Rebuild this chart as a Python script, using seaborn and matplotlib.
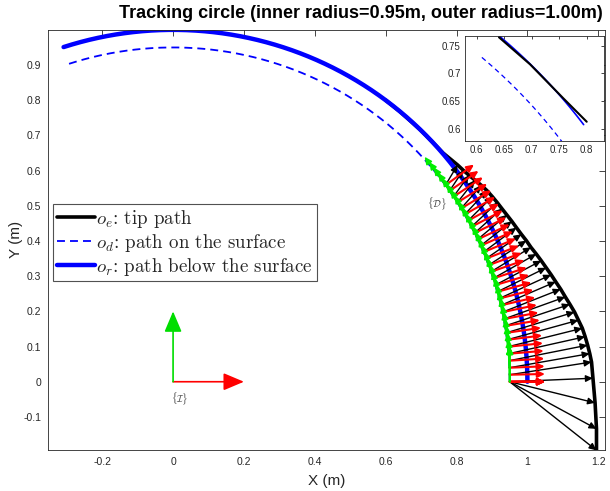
import numpy as np
import matplotlib
matplotlib.use("Agg")
import matplotlib.pyplot as plt
import seaborn as sns
from matplotlib.lines import Line2D
from matplotlib.ticker import FormatStrFormatter

# ---------------- data ----------------
title_text = "Tracking circle (inner radius=0.95m, outer radius=1.00m)"
inner_radius = 0.95          # o_d : path on the surface
outer_radius = 1.00          # o_r : path below the surface
arc_start_deg = 108.0
arc_end_deg = 0.0
frame_len = 0.10             # length of the {D} frame axes
world_frame_len = 0.20       # length of the {I} frame axes

# frame {D} orientation (deg) at each sampled step
frame_angles_deg = [0.0, 0.0, 0.0, 0.0, 1.2, 2.4, 3.6, 4.8, 6.0, 7.2, 8.4, 9.6,
                    10.8, 12.0, 13.2, 14.4, 15.6, 16.8, 18.0, 19.2, 20.4, 21.6,
                    22.8, 24.0, 25.2, 26.4, 27.6, 28.8, 30.0, 31.2, 32.4, 33.6,
                    34.8, 36.0]
# o_e : tip position at the same steps
tip_x = [1.195, 1.195, 1.191, 1.185, 1.181, 1.176, 1.170, 1.163, 1.155, 1.144,
         1.133, 1.120, 1.107, 1.094, 1.080, 1.067, 1.053, 1.039, 1.025, 1.010,
         0.997, 0.983, 0.969, 0.956, 0.942, 0.928, 0.915, 0.901, 0.886, 0.870,
         0.852, 0.835, 0.819, 0.803]
tip_y = [-0.195, -0.134, -0.060, 0.010, 0.056, 0.080, 0.104, 0.128, 0.152, 0.175,
         0.198, 0.220, 0.241, 0.263, 0.284, 0.304, 0.324, 0.344, 0.363, 0.382,
         0.401, 0.419, 0.438, 0.456, 0.474, 0.492, 0.509, 0.526, 0.543, 0.558,
         0.573, 0.587, 0.601, 0.616]
# rest of the tip path (runs along the outer circle)
tip_tail_x = [0.762, 0.700, 0.640, 0.600]
tip_tail_y = [0.650, 0.714, 0.768, 0.800]

# inset (zoom) data
inset_tip_x = [0.6405, 0.697, 0.7575, 0.800]
inset_tip_y = [0.7652, 0.7163, 0.6549, 0.6126]
inset_outer_deg = (50.2, 37.4)
inset_inner_deg = (50.1, 30.0)

legend_labels = [r"$o_e$: tip path", r"$o_d$: path on the surface",
                 r"$o_r$: path below the surface"]

# ---------------- style ----------------
sns.set_theme(style="white")
plt.rcParams["font.family"] = ["Liberation Sans", "DejaVu Sans"]
plt.rcParams["mathtext.fontset"] = "cm"
plt.rcParams["axes.unicode_minus"] = False

W, H = 610, 491
fig = plt.figure(figsize=(W / 100, H / 100), dpi=100)
ax = fig.add_axes([48 / W, 1 - 450 / H, (605 - 48) / W, (450 - 29.5) / H])

dash = (0, (4.4, 2.8))


def arc(r, a0, a1, n=300):
    t = np.deg2rad(np.linspace(a0, a1, n))
    return r * np.cos(t), r * np.sin(t)


# tip path
px = tip_x + tip_tail_x
py = tip_y + tip_tail_y
sns.lineplot(x=px, y=py, sort=False, estimator=None, color="black", lw=2.6, ax=ax)
# inner dashed circle
xi, yi = arc(inner_radius, arc_start_deg, arc_end_deg)
sns.lineplot(x=xi, y=yi, sort=False, estimator=None, color="#0000ff", lw=1.3,
             linestyle=dash, ax=ax)
# outer circle
xo, yo = arc(outer_radius, arc_start_deg, arc_end_deg)
sns.lineplot(x=xo, y=yo, sort=False, estimator=None, color="#0000ff", lw=3.2, ax=ax)


def arrow(a, x0, y0, x1, y1, color, lw, hl, hw, ms=10, z=3):
    a.annotate("", xy=(x1, y1), xytext=(x0, y0), xycoords="data",
               arrowprops=dict(arrowstyle=f"-|>,head_length={hl},head_width={hw}",
                               color=color, lw=lw, shrinkA=0, shrinkB=0,
                               mutation_scale=ms), zorder=z)


ang = np.deg2rad(frame_angles_deg)
ox = inner_radius * np.cos(ang)
oy = inner_radius * np.sin(ang)
# black arrows: frame origin -> tip
for i in range(len(ang)):
    arrow(ax, ox[i], oy[i], tip_x[i], tip_y[i], "black", 1.0, 0.6, 0.28, ms=7, z=3)
# red arrows: frame x axis (radial)
for i in range(len(ang)):
    arrow(ax, ox[i], oy[i], ox[i] + frame_len * np.cos(ang[i]),
          oy[i] + frame_len * np.sin(ang[i]), "#ff0000", 1.5, 0.6, 0.28, ms=7, z=4)
# green arrows: frame y axis (tangential)
for i in range(len(ang)):
    arrow(ax, ox[i], oy[i], ox[i] - frame_len * np.sin(ang[i]),
          oy[i] + frame_len * np.cos(ang[i]), "#00ee00", 1.2, 0.6, 0.28, ms=7, z=5)

# world frame {I}
arrow(ax, 0, 0, world_frame_len, 0, "#ff0000", 1.2, 0.9, 0.38, ms=14, z=5)
arrow(ax, 0, 0, 0, world_frame_len, "#00dd00", 1.2, 0.9, 0.38, ms=14, z=5)
ax.text(0.02, -0.048, r"$\{\mathcal{I}\}$", fontsize=7, color="#333333",
        ha="center", va="center")
ax.text(0.745, 0.506, r"$\{\mathcal{D}\}$", fontsize=7, color="#333333",
        ha="center", va="center")

ax.set_xlim(-0.353, 1.219)
ax.set_ylim(-0.194, 1.001)
ax.set_xticks([-0.2, 0, 0.2, 0.4, 0.6, 0.8, 1.0, 1.2])
ax.set_yticks([-0.1, 0, 0.1, 0.2, 0.3, 0.4, 0.5, 0.6, 0.7, 0.8, 0.9])
ax.xaxis.set_major_formatter(FormatStrFormatter("%g"))
ax.yaxis.set_major_formatter(FormatStrFormatter("%g"))
ax.tick_params(direction="in", length=4, width=0.6, colors="#262626",
               labelsize=7.5, top=True, right=True, pad=5)
for s in ax.spines.values():
    s.set_color("#262626")
    s.set_linewidth(0.6)
ax.set_xlabel("X (m)", fontsize=11, color="#262626", labelpad=5)
ax.set_ylabel("Y (m)", fontsize=11, color="#262626", labelpad=0)

handles = [Line2D([], [], color="black", lw=2.6),
           Line2D([], [], color="#0000ff", lw=1.3, linestyle=dash),
           Line2D([], [], color="#0000ff", lw=3.2)]
leg = ax.legend(handles, legend_labels, loc="upper left",
                bbox_to_anchor=((53 - 48) / 557, (450 - 204) / 420.5),
                borderaxespad=0, frameon=True, fancybox=False,
                prop={"family": "cmr10", "size": 13.6}, handlelength=2.0,
                handletextpad=0.1, borderpad=0.2, labelspacing=0.1)
leg.get_frame().set_edgecolor("#262626")
leg.get_frame().set_linewidth(0.8)

fig.text(361 / W, 1 - 14 / H, title_text, ha="center", va="center",
         fontsize=13, fontweight="bold", color="black")

# ---------------- inset ----------------
axi = fig.add_axes([465 / W, 1 - 141 / H, (604.3 - 465) / W, (141 - 36) / H])
axi.set_facecolor("white")
xo2, yo2 = arc(outer_radius, *inset_outer_deg, n=100)
xi2, yi2 = arc(inner_radius, *inset_inner_deg, n=100)
sns.lineplot(x=xo2, y=yo2, sort=False, estimator=None, color="#0000ff", lw=1.2, ax=axi)
sns.lineplot(x=inset_tip_x, y=inset_tip_y, sort=False, estimator=None,
             color="black", lw=1.5, ax=axi)
sns.lineplot(x=xi2, y=yi2, sort=False, estimator=None, color="#0000ff", lw=0.9,
             linestyle=(0, (4, 3)), ax=axi)
axi.set_xlim(0.5787, 0.832)
axi.set_ylim(0.5778, 0.7675)
axi.set_xticks([0.6, 0.65, 0.7, 0.75, 0.8])
axi.set_yticks([0.6, 0.65, 0.7, 0.75])
axi.xaxis.set_major_formatter(FormatStrFormatter("%g"))
axi.yaxis.set_major_formatter(FormatStrFormatter("%g"))
axi.tick_params(direction="in", length=2.5, width=0.6, colors="#262626",
                labelsize=7, top=True, right=True, pad=3)
for s in axi.spines.values():
    s.set_color("#262626")
    s.set_linewidth(0.6)
axi.set_xlabel("")
axi.set_ylabel("")

fig.savefig("out.png", dpi=100)
